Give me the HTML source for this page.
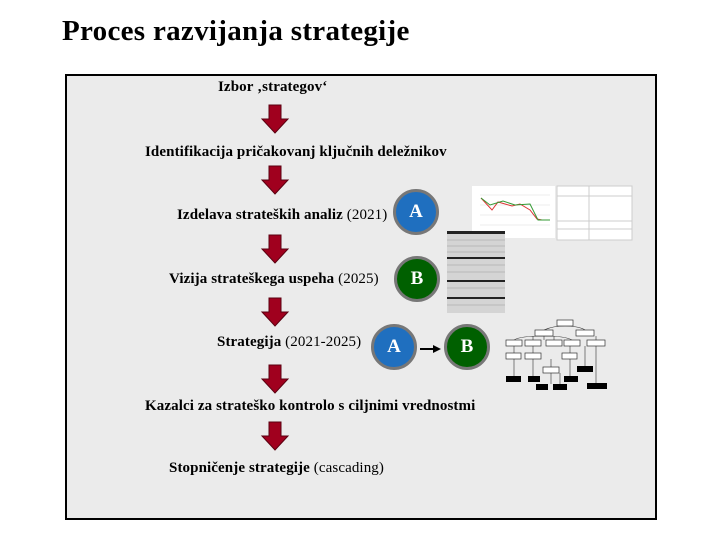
<!DOCTYPE html>
<html><head><meta charset="utf-8"><style>
body{margin:0;width:720px;height:540px;background:#fff;position:relative;overflow:hidden;font-family:"Liberation Serif",serif}
.t{position:absolute;font-size:15px;font-weight:bold;white-space:nowrap;color:#000;letter-spacing:0.1px}
.t span{font-weight:normal}
.c{position:absolute;border-radius:50%;border:3px solid #777;color:#fff;font-weight:bold;font-size:19px;text-align:center;box-sizing:border-box;width:46px;height:46px;line-height:40px}
.bl{background:#1f6fbf}.gr{background:#006000}
</style></head><body>
<div style="position:absolute;left:62px;top:15px;font-size:29px;font-weight:bold;letter-spacing:0.3px">Proces razvijanja strategije</div>
<div style="position:absolute;left:65px;top:74px;width:588px;height:442px;border:2px solid #000;background:#ebebeb"></div>
<div class="t" style="left:218px;top:79px">Izbor ‚strategov‘</div>
<div class="t" style="left:145px;top:144px">Identifikacija pričakovanj ključnih deležnikov</div>
<div class="t" style="left:177px;top:207px">Izdelava strateških analiz <span>(2021)</span></div>
<div class="t" style="left:169px;top:271px">Vizija strateškega uspeha <span>(2025)</span></div>
<div class="t" style="left:217px;top:334px">Strategija <span>(2021-2025)</span></div>
<div class="t" style="left:145px;top:398px">Kazalci za strateško kontrolo s ciljnimi vrednostmi</div>
<div class="t" style="left:169px;top:460px">Stopničenje strategije <span>(cascading)</span></div>
<svg style="position:absolute;left:0;top:0" width="720" height="540">
<defs><path id="ar" d="M-6,0 H6 V14 H13 L0,28 L-13,14 H-6 Z" fill="#a0001e" stroke="#5a0010" stroke-width="1"/></defs>
<use href="#ar" x="275" y="105"/><use href="#ar" x="275" y="166"/><use href="#ar" x="275" y="235"/>
<use href="#ar" x="275" y="298"/><use href="#ar" x="275" y="365"/><use href="#ar" x="275" y="422"/>
<line x1="420" y1="349" x2="434" y2="349" stroke="#000" stroke-width="2"/><path d="M433,345 L441,349 L433,353Z"/>
<rect x="472" y="186" width="83" height="52" fill="#fff"/>
<g stroke="#ddd" stroke-width="0.5"><line x1="480" y1="195" x2="550" y2="195"/><line x1="480" y1="205" x2="550" y2="205"/><line x1="480" y1="215" x2="550" y2="215"/><line x1="480" y1="225" x2="550" y2="225"/></g>
<polyline points="481,198 492,210 498,202 512,206 520,204 530,210 537,219 542,220" fill="none" stroke="#d33" stroke-width="1"/>
<polyline points="481,198 490,205 503,201 515,205 530,204 538,220 550,220" fill="none" stroke="#393" stroke-width="1"/>
<rect x="557" y="186" width="75" height="54" fill="#fff" stroke="#ccc"/>
<line x1="589" y1="186" x2="589" y2="240" stroke="#ccc"/><line x1="557" y1="196" x2="632" y2="196" stroke="#ccc"/><line x1="557" y1="221" x2="632" y2="221" stroke="#ccc"/><line x1="557" y1="229" x2="632" y2="229" stroke="#ccc"/>
<rect x="447" y="231" width="58" height="82" fill="#d4d4d4"/>
<g stroke="#999" stroke-width="0.6"><line x1="447" y1="240" x2="505" y2="240"/><line x1="447" y1="246" x2="505" y2="246"/><line x1="447" y1="252" x2="505" y2="252"/><line x1="447" y1="265" x2="505" y2="265"/><line x1="447" y1="272" x2="505" y2="272"/><line x1="447" y1="288" x2="505" y2="288"/><line x1="447" y1="305" x2="505" y2="305"/></g>
<g fill="#222"><rect x="447" y="231" width="58" height="3"/><rect x="447" y="257" width="58" height="2"/><rect x="447" y="280" width="58" height="2"/><rect x="447" y="297" width="58" height="2"/></g>
<g fill="none" stroke="#333" stroke-width="0.6"><path d="M565,326 C550,326 545,330 544,330 M565,326 C580,326 585,330 585,330 M544,336 V340 M514,340 C520,336 540,336 544,336 M533,340 V336 M554,340 V336 M572,340 C565,336 550,336 544,336 M596,340 V336 M514,346 V353 M533,346 V353 M570,346 V353 M514,359 V376 M533,359 V376 M551,359 V367 M570,359 V376 M585,346 V366 M596,346 V383 M551,373 V384 M560,373 V384"/></g>
<g fill="#fff" stroke="#333" stroke-width="0.7">
<rect x="557" y="320" width="16" height="6"/><rect x="535" y="330" width="18" height="6"/><rect x="576" y="330" width="18" height="6"/>
<rect x="506" y="340" width="16" height="6"/><rect x="525" y="340" width="16" height="6"/><rect x="546" y="340" width="16" height="6"/><rect x="564" y="340" width="16" height="6"/><rect x="587" y="340" width="18" height="6"/>
<rect x="506" y="353" width="15" height="6"/><rect x="525" y="353" width="16" height="6"/><rect x="562" y="353" width="15" height="6"/><rect x="543" y="367" width="16" height="6"/>
</g>
<g fill="#000"><rect x="506" y="376" width="15" height="6"/><rect x="528" y="376" width="12" height="6"/><rect x="564" y="376" width="14" height="6"/><rect x="577" y="366" width="16" height="6"/><rect x="536" y="384" width="12" height="6"/><rect x="553" y="384" width="14" height="6"/><rect x="587" y="383" width="20" height="6"/></g>
</svg>
<div class="c bl" style="left:393px;top:189px">A</div>
<div class="c gr" style="left:394px;top:256px">B</div>
<div class="c bl" style="left:371px;top:324px">A</div>
<div class="c gr" style="left:444px;top:324px">B</div>
</body></html>
